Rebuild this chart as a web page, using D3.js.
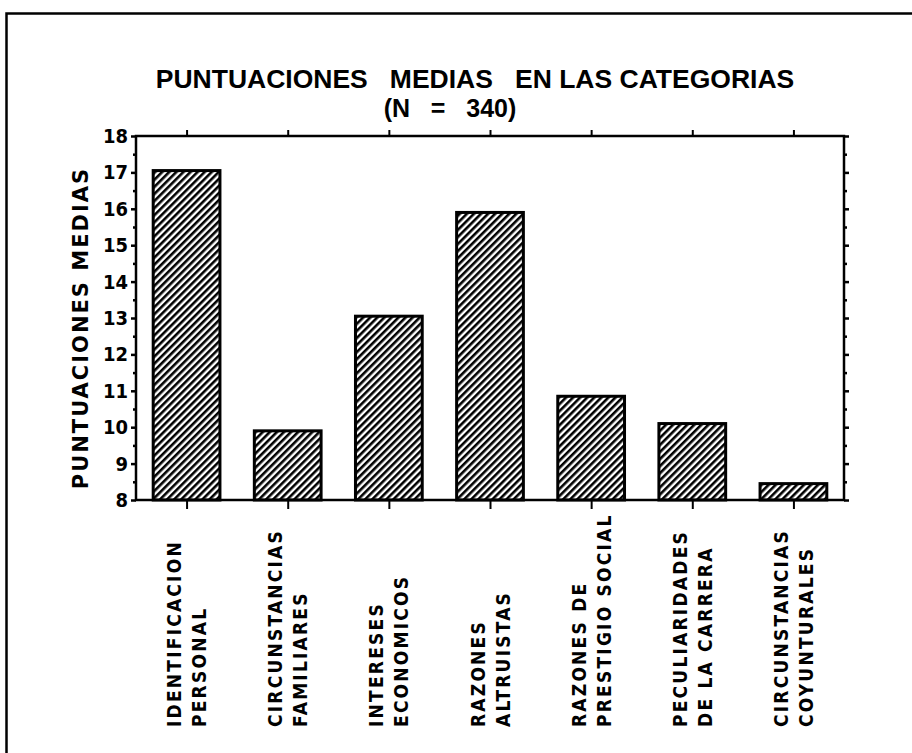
<!DOCTYPE html>
<html>
<head>
<meta charset="utf-8">
<script src="https://cdn.jsdelivr.net/npm/d3@7"></script>
<style>
  html, body { margin: 0; padding: 0; background: #fff; }
  svg { display: block; }
  text { fill: #000; font-weight: bold; }
</style>
</head>
<body>
<div id="chart"></div>
<script>
(function () {
  "use strict";

  // categories: two label lines per bar
  var CATEGORIES = [
    ["IDENTIFICACION", "PERSONAL"],
    ["CIRCUNSTANCIAS", "FAMILIARES"],
    ["INTERESES", "ECONOMICOS"],
    ["RAZONES", "ALTRUISTAS"],
    ["RAZONES DE", "PRESTIGIO SOCIAL"],
    ["PECULIARIDADES", "DE LA CARRERA"],
    ["CIRCUNSTANCIAS", "COYUNTURALES"]
  ];
  var MEANS = [17.05, 9.9, 13.05, 15.9, 10.85, 10.1, 8.45];
  var Y_TICKS = [8, 9, 10, 11, 12, 13, 14, 15, 16, 17, 18];
  var Y_MINOR = [8.5, 9.5, 10.5, 11.5, 12.5, 13.5, 14.5, 15.5, 16.5, 17.5];

  var W = 912, H = 753;
  var L = 136, R = 844, T = 136, B = 500;
  var COND = "'Liberation Sans Narrow', 'DejaVu Sans Condensed', 'Arial Narrow', sans-serif";

  var svg = d3.select("#chart").append("svg").attr("width", W).attr("height", H);

  // hatch fill
  var P = 5;
  var pat = svg.append("defs").append("pattern")
    .attr("id", "hatch").attr("patternUnits", "userSpaceOnUse")
    .attr("width", P).attr("height", P)
    .attr("patternTransform", "rotate(45)");
  pat.append("rect").attr("width", P).attr("height", P).attr("fill", "#fff");
  pat.append("line").attr("x1", 1.3).attr("y1", 0).attr("x2", 1.3).attr("y2", P)
    .attr("stroke", "#000").attr("stroke-width", 2.6);

  // outer frame (left and top edges only survive in the scan)
  svg.append("path").attr("d", "M6.5," + H + "V13.5H" + W)
    .attr("fill", "none").attr("stroke", "#000").attr("stroke-width", 2.5);

  var idx = d3.range(CATEGORIES.length);
  var x = d3.scaleBand().domain(idx).range([L, R]).paddingInner(0.34).paddingOuter(0.17);
  var y = d3.scaleLinear().domain([8, 18]).range([B, T]);

  // bars
  svg.append("g").selectAll("rect").data(MEANS).join("rect")
    .attr("x", function (d, i) { return x(i); })
    .attr("y", function (d) { return y(d); })
    .attr("width", x.bandwidth())
    .attr("height", function (d) { return y(8) - y(d); })
    .attr("fill", "url(#hatch)")
    .attr("stroke", "#000").attr("stroke-width", 3);

  // plot frame
  svg.append("rect").attr("x", L).attr("y", T).attr("width", R - L).attr("height", B - T)
    .attr("fill", "none").attr("stroke", "#000").attr("stroke-width", 2.5);

  // left axis
  var yl = svg.append("g").attr("transform", "translate(" + L + ",0)")
    .call(d3.axisLeft(y).tickValues(Y_TICKS).tickSize(5).tickPadding(3).tickFormat(d3.format("d")));
  yl.select(".domain").remove();
  yl.selectAll("line").attr("stroke-width", 2.5);
  yl.selectAll("text").attr("font-family", COND).attr("font-size", 20).attr("font-weight", "bold");
  svg.append("g").attr("transform", "translate(" + L + ",0)")
    .call(d3.axisLeft(y).tickValues(Y_MINOR).tickSize(3).tickFormat(""))
    .call(function (g) { g.select(".domain").remove(); g.selectAll("line").attr("stroke-width", 2.5); });

  // right axis
  svg.append("g").attr("transform", "translate(" + R + ",0)")
    .call(d3.axisRight(y).tickValues(Y_TICKS).tickSize(5).tickFormat(""))
    .call(function (g) { g.select(".domain").remove(); g.selectAll("line").attr("stroke-width", 2.5); });
  svg.append("g").attr("transform", "translate(" + R + ",0)")
    .call(d3.axisRight(y).tickValues(Y_MINOR).tickSize(3).tickFormat(""))
    .call(function (g) { g.select(".domain").remove(); g.selectAll("line").attr("stroke-width", 2.5); });

  // top and bottom category ticks
  var xc = d3.scaleOrdinal().domain(idx).range(idx.map(function (i) { return x(i) + x.bandwidth() / 2; }));
  svg.append("g").attr("transform", "translate(0," + T + ")")
    .call(d3.axisTop(xc).tickSize(6).tickFormat(""))
    .call(function (g) { g.select(".domain").remove(); g.selectAll("line").attr("stroke-width", 2); });
  svg.append("g").attr("transform", "translate(0," + B + ")")
    .call(d3.axisBottom(xc).tickSize(9).tickFormat(""))
    .call(function (g) { g.select(".domain").remove(); g.selectAll("line").attr("stroke-width", 2); });

  // category labels, rotated, reading upward
  var lab = svg.append("g").selectAll("g").data(CATEGORIES).join("g")
    .attr("transform", function (d, i) { return "translate(" + (x(i) + x.bandwidth() / 2) + ",727) rotate(-90)"; });
  lab.each(function (d) {
    var g = d3.select(this);
    d.forEach(function (line, k) {
      g.append("text").attr("x", 0).attr("y", (k - 0.5) * 25 + 7)
        .attr("font-family", COND).attr("font-size", 19).attr("letter-spacing", 2.2)
        .text(line);
    });
  });

  // y title
  svg.append("text")
    .attr("transform", "translate(88," + ((T + B) / 2 + 10) + ") rotate(-90)")
    .attr("text-anchor", "middle")
    .attr("font-family", "'DejaVu Sans', sans-serif").attr("font-size", 21).attr("letter-spacing", 2)
    .text("PUNTUACIONES MEDIAS");

  // title
  svg.append("text").attr("x", 475).attr("y", 88).attr("text-anchor", "middle")
    .attr("font-family", "'Liberation Sans', Arial, sans-serif").attr("font-size", 26.5)
    .attr("xml:space", "preserve")
    .text("PUNTUACIONES   MEDIAS   EN LAS CATEGORIAS");
  svg.append("text").attr("x", 450).attr("y", 117).attr("text-anchor", "middle")
    .attr("font-family", "'Liberation Sans', Arial, sans-serif").attr("font-size", 25)
    .attr("xml:space", "preserve")
    .text("(N   =   340)");
})();
</script>
</body>
</html>
